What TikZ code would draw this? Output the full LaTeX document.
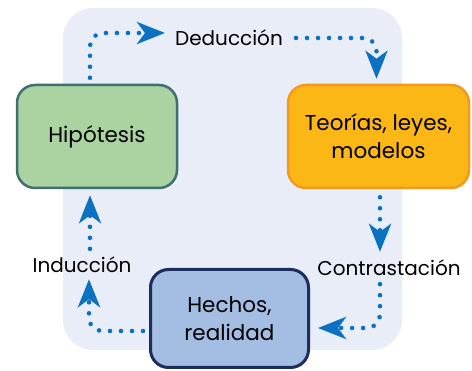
\documentclass[tikz,border=0pt]{standalone}
\usepackage{fontspec}
\setmainfont{Poppins}
\usepackage{xcolor}
\usepackage{tikz}
\usetikzlibrary{positioning, arrows.meta}

\definecolor{fondo}{HTML}{E9EDF8}
\definecolor{azul}{HTML}{0B72C2}
\definecolor{verde}{HTML}{ABD2A1}
\definecolor{verdeborde}{HTML}{3F6F70}
\definecolor{naranja}{HTML}{FBB715}
\definecolor{naranjaborde}{HTML}{F4981F}
\definecolor{celeste}{HTML}{A4BEE3}
\definecolor{celesteborde}{HTML}{1C2D5E}

\begin{document}
\begin{tikzpicture}[
                x=1pt, y=-1pt,
                font=\fontsize{20}{28}\selectfont,
                caja/.style={rounded corners=18pt, line width=2.5pt, align=center, inner sep=0pt,
                             font=\fontsize{21.5}{28}\selectfont},
                etiqueta/.style={inner sep=0pt},
                flujo/.style={draw=azul, line width=4.6pt, dash pattern=on 0pt off 11pt, line cap=round,
                              rounded corners=13pt, -{Stealth[length=28pt, width=22pt, inset=8pt]}}
                ]
                \useasboundingbox (0,0) rectangle (472,371);

                % fondo
                \fill[fondo, rounded corners=30pt] (63,8) rectangle (402,350);

                % cajas
                \node[caja, fill=verde, draw=verdeborde, minimum width=160pt, minimum height=103pt] (hip) at (97,136.5) {Hipótesis};
                \node[caja, fill=naranja, draw=naranjaborde, minimum width=181pt, minimum height=103pt] (teo) at (378.5,136.5) {Teorías, leyes,\\ modelos};
                \node[caja, fill=celeste, draw=celesteborde, line width=3pt, minimum width=158pt, minimum height=98pt] (hec) at (229.5,318.5) {Hechos,\\ realidad};

                % etiquetas
                \node[etiqueta] (ded) at (229,38) {Deducción};
                \node[etiqueta] (con) at (389,268) {Contrastación};
                \node[etiqueta] (ind) at (82,265) {Inducción};

                % flechas
                \draw[flujo] ([xshift=-7pt, yshift=6pt]hip.north) |- ([xshift=-10pt, yshift=5pt]ded.west);
                \draw[flujo] ([xshift=13pt]ded.east) -| ([xshift=-2pt, yshift=5pt]teo.north);
                \draw[flujo] ([xshift=1.5pt, yshift=-8pt]teo.south) -- ([xshift=-9pt, yshift=8pt]con.north);
                \draw[flujo] ([xshift=-9pt, yshift=-8pt]con.south) |- ([xshift=8pt, yshift=-9.5pt]hec.east);
                \draw[flujo] ([xshift=-6pt, yshift=-12.5pt]hec.west) -| ([xshift=7pt, yshift=-6pt]ind.south);
                \draw[flujo] ([xshift=8pt, yshift=8pt]ind.north) -- ([xshift=-7pt, yshift=-6pt]hip.south);
            \end{tikzpicture}
\end{document}
